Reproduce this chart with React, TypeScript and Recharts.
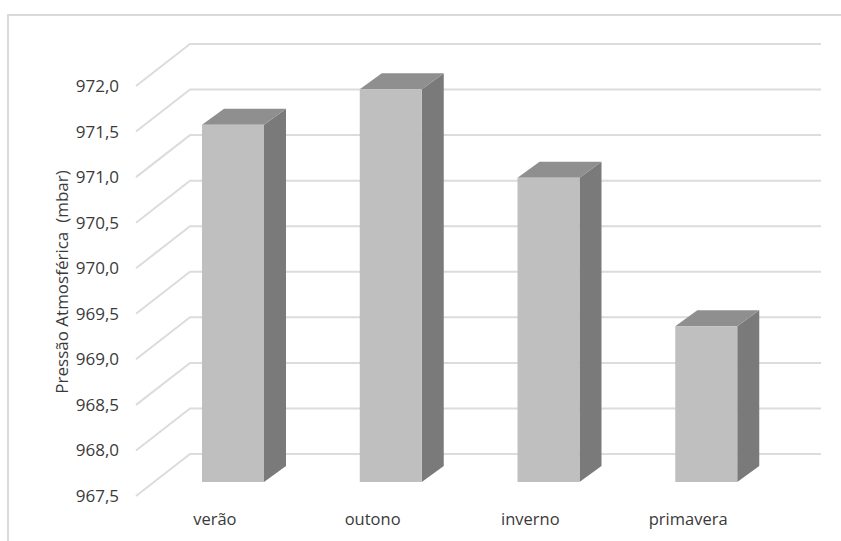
import React from "react";
import {
  BarChart,
  Bar,
  XAxis,
  YAxis,
  CartesianGrid,
  Customized,
} from "recharts";

const seasons = ["verão", "outono", "inverno", "primavera"];
const pressure = [971.42, 971.81, 970.84, 969.21];
const yTicks = [967.5, 968, 968.5, 969, 969.5, 970, 970.5, 971, 971.5, 972];

const data = seasons.map((season, i) => ({ season, pressure: pressure[i] }));

// back-wall depth of the 3D box, and where the bars sit inside it
const WALL_DX = 54;
const WALL_DY = 42;
const BAR_OX = 18;
const BAR_OY = 14;
const BAR_DX = 22;
const BAR_DY = 16;

const FONT = "'Open Sans', sans-serif";
const TEXT = "#3a3a3a";

const fmt = (v: number) => v.toFixed(1).replace(".", ",");

const GridLine = (props: any) => {
  const { x1, y1, x2 } = props;
  const d = `M${x1},${y1} L${x1 + WALL_DX},${y1 - WALL_DY} L${x2 + WALL_DX},${y1 - WALL_DY}`;
  return (
    <path
      key={props.key ?? `g-${y1}`}
      d={d}
      fill="none"
      stroke="#dcdcdc"
      strokeWidth={2}
    />
  );
};

const Bar3D = (props: any) => {
  const { x, y, width, height } = props;
  if (height == null || width == null) return null;
  const fx = x + BAR_OX;
  const fy = y - BAR_OY;
  const top = `${fx},${fy} ${fx + BAR_DX},${fy - BAR_DY} ${fx + width + BAR_DX},${fy - BAR_DY} ${fx + width},${fy}`;
  const side = `${fx + width},${fy} ${fx + width + BAR_DX},${fy - BAR_DY} ${fx + width + BAR_DX},${fy + height - BAR_DY} ${fx + width},${fy + height}`;
  return (
    <g>
      <polygon points={side} fill="#7a7a7a" />
      <polygon points={top} fill="#8f8f8f" />
      <rect x={fx} y={fy} width={width} height={height} fill="#bfbfbf" />
    </g>
  );
};

const AxisTitle = () => (
  <text
    x={61}
    y={282}
    transform="rotate(-90 61 282)"
    textAnchor="middle"
    dominantBaseline="central"
    fontFamily={FONT}
    fontSize={17}
    fill={TEXT}
  >
    {"Pressão Atmosférica \u00A0(mbar)"}
  </text>
);

export default function App() {
  return (
    <div style={{ position: "relative", width: 841, height: 541, overflow: "hidden", background: "#fff" }}>
      <style>{`body{margin:0}`}</style>
      <div
        style={{
          position: "absolute",
          left: 7,
          top: 14,
          width: 900,
          height: 600,
          borderLeft: "2px solid #d9d9d9",
          borderTop: "2px solid #d9d9d9",
        }}
      />
      <div style={{ position: "absolute", left: 0, top: 0 }}>
        <BarChart
          width={841}
          height={541}
          data={data}
          margin={{ top: 86, right: 74, bottom: 0, left: 0 }}
          barSize={62}
        >
          <CartesianGrid vertical={false} horizontal={GridLine} />
          <XAxis
            dataKey="season"
            height={45}
            axisLine={false}
            tickLine={false}
            tickSize={0}
            tickMargin={17}
            tick={{ fontFamily: FONT, fontSize: 16.5, fill: TEXT }}
            interval={0}
          />
          <YAxis
            width={136}
            domain={[967.5, 972]}
            ticks={yTicks}
            interval={0}
            axisLine={false}
            tickLine={false}
            tickSize={0}
            tickMargin={17}
            tickFormatter={fmt}
            tick={{ fontFamily: FONT, fontSize: 17, fill: TEXT }}
          />
          <Bar
            dataKey="pressure"
            shape={(p: any) => <Bar3D {...p} />}
            isAnimationActive={false}
          />
          <Customized component={AxisTitle} />
        </BarChart>
      </div>
    </div>
  );
}
